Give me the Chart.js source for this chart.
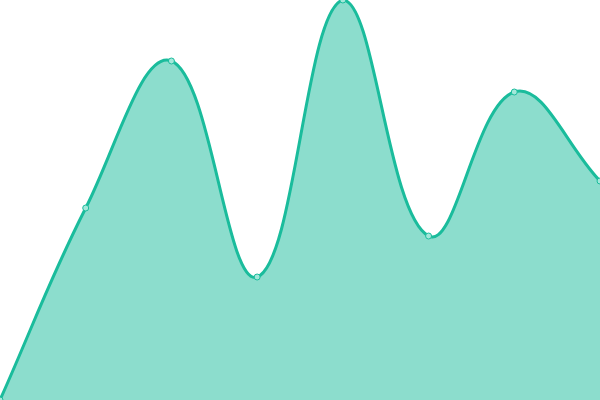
<!DOCTYPE html>
<html><head><meta charset="utf-8">
<script src="https://cdn.jsdelivr.net/npm/chart.js@4"></script>
<style>html,body{margin:0;padding:0;background:#fff}#wrap{width:600px;height:400px}</style>
</head><body><div id="wrap"><canvas id="c"></canvas></div>
<script>
const labels = ["1","2","3","4","5","6","7","8"];
const values = [0, 192, 339, 123, 400, 164, 308, 219];
const yMin = 0;
const yMax = 400;
new Chart(document.getElementById('c'), {
  type: 'line',
  data: {
    labels: labels,
    datasets: [{
      data: values,
      borderColor: '#1abc9c',
      backgroundColor: 'rgba(26,188,156,0.5)',
      pointBackgroundColor: '#a3e8da',
      pointBorderColor: '#1abc9c',
      pointRadius: 3,
      pointBorderWidth: 1,
      borderWidth: 3,
      fill: 'start',
      tension: 0.4,
      clip: false
    }]
  },
  options: {
    responsive: true,
    maintainAspectRatio: false,
    animation: false,
    layout: { padding: 0, autoPadding: false },
    plugins: { legend: { display: false }, tooltip: { enabled: false } },
    scales: {
      x: { display: false, offset: false },
      y: { display: false, min: yMin, max: yMax }
    }
  }
});
</script></body></html>
